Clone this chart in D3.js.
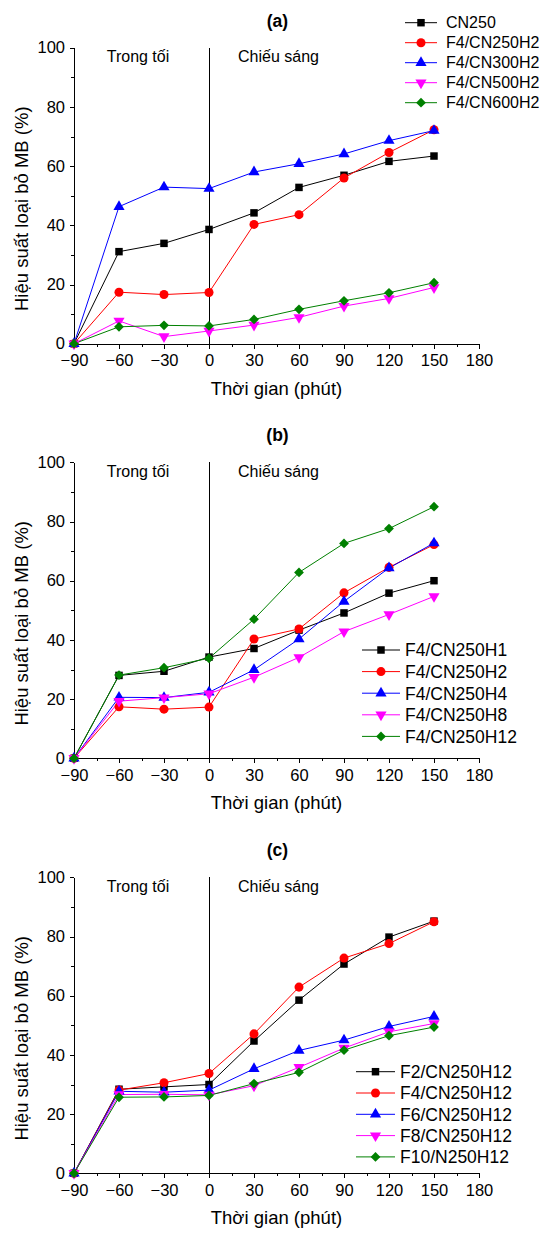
<!DOCTYPE html>
<html>
<head>
<meta charset="utf-8">
<script src="https://cdn.jsdelivr.net/npm/d3@7"></script>
<style>
  body { margin: 0; background: #fff; }
  svg { display: block; font-family: "Liberation Sans", Arial, sans-serif; }
</style>
</head>
<body>
<div id="chart"></div>
<script>
// thời gian (phút)
const times = [-90, -60, -30, 0, 30, 60, 90, 120, 150];
const xTicks = [-90, -60, -30, 0, 30, 60, 90, 120, 150, 180];
const yTicks = [0, 20, 40, 60, 80, 100];

// (a)
const namesA = ['CN250', 'F4/CN250H2', 'F4/CN300H2', 'F4/CN500H2', 'F4/CN600H2'];
const valuesA = [
  [0, 31.1, 33.9, 38.6, 44.2, 52.8, 56.9, 61.6, 63.4],
  [0, 17.4, 16.6, 17.3, 40.3, 43.6, 56.0, 64.6, 72.3],
  [0, 46.3, 52.9, 52.4, 58.0, 60.8, 64.1, 68.6, 72.0],
  [0, 7.7, 2.4, 4.3, 6.3, 8.9, 12.7, 15.3, 19.0],
  [0, 5.7, 6.2, 6.0, 8.2, 11.6, 14.5, 17.2, 20.6]
];

// (b)
const namesB = ['F4/CN250H1', 'F4/CN250H2', 'F4/CN250H4', 'F4/CN250H8', 'F4/CN250H12'];
const valuesB = [
  [0, 28.0, 29.4, 34.2, 37.1, 43.3, 49.1, 55.8, 60.0],
  [0, 17.4, 16.6, 17.3, 40.3, 43.7, 55.9, 64.5, 72.2],
  [0, 20.6, 20.5, 22.3, 29.9, 40.3, 53.0, 64.3, 72.7],
  [0, 19.3, 20.5, 21.8, 27.4, 34.1, 42.8, 48.6, 54.7],
  [0, 28.1, 30.6, 33.8, 47.0, 62.8, 72.6, 77.6, 85.0]
];

// (c)
const namesC = ['F2/CN250H12', 'F4/CN250H12', 'F6/CN250H12', 'F8/CN250H12', 'F10/N250H12'];
const valuesC = [
  [0, 28.4, 29.2, 30.0, 44.7, 58.5, 70.7, 79.8, 85.2],
  [0, 28.1, 30.6, 33.7, 47.1, 62.9, 72.7, 77.6, 85.0],
  [0, 27.7, 27.4, 28.1, 35.3, 41.5, 45.0, 49.6, 53.0],
  [0, 26.6, 26.7, 26.5, 29.6, 35.8, 42.3, 47.8, 50.6],
  [0, 25.7, 25.8, 26.3, 30.3, 34.1, 41.6, 46.5, 49.4]
];

const colors = ['#000000', '#ff0000', '#0000ff', '#ff00ff', '#008000'];

const width = 539, height = 1234;
const left = 74, right = 479, plotH = 296;

const panels = [
  { label: '(a)', top: 47.7, names: namesA, values: valuesA,
    legend: { x1: 405, x2: 437, tx: 446, y0: -25, dy: 20, fs: 16 } },
  { label: '(b)', top: 462.3, names: namesB, values: valuesB,
    legend: { x1: 362, x2: 400, tx: 405, y0: 187.7, dy: 21.6, fs: 17.5 } },
  { label: '(c)', top: 877.3, names: namesC, values: valuesC,
    legend: { x1: 356, x2: 395, tx: 400, y0: 194.4, dy: 21.3, fs: 17.5 } }
];

const svg = d3.select('#chart').append('svg')
  .attr('width', width)
  .attr('height', height);

const x = d3.scaleLinear().domain([-90, 180]).range([left, right]);

// ký hiệu điểm
function marker(sel, i, cx, cy) {
  const types = [d3.symbolSquare, d3.symbolCircle, d3.symbolTriangle, d3.symbolTriangle, d3.symbolSquare];
  const sizes = [56, 64, 54, 54, 48];
  const rot = [0, 0, 0, 180, 45];
  sel.append('path')
    .attr('d', d3.symbol().type(types[i]).size(sizes[i])())
    .attr('transform', `translate(${cx},${cy}) rotate(${rot[i]})`)
    .attr('fill', colors[i]);
}

panels.forEach(p => {
  const y = d3.scaleLinear().domain([0, 100]).range([p.top + plotH, p.top]);
  const g = svg.append('g');

  // tiêu đề
  g.append('text')
    .attr('x', (left + right) / 2 + 1)
    .attr('y', p.top - 21)
    .attr('text-anchor', 'middle')
    .attr('font-weight', 'bold')
    .attr('font-size', 17.5)
    .text(p.label);

  // trục x
  g.append('g')
    .attr('transform', `translate(0,${y(0)})`)
    .call(d3.axisBottom(x).tickValues(xTicks).tickSize(5).tickPadding(6).tickSizeOuter(0));
  g.append('g')
    .attr('transform', `translate(0,${y(0)})`)
    .call(d3.axisBottom(x).tickValues(d3.range(-75, 180, 30)).tickSize(3).tickFormat('').tickSizeOuter(0))
    .select('.domain').remove();

  // trục y
  g.append('g')
    .attr('transform', `translate(${left},0)`)
    .call(d3.axisLeft(y).tickValues(yTicks).tickSize(4).tickPadding(5).tickSizeOuter(0));
  g.append('g')
    .attr('transform', `translate(${left},0)`)
    .call(d3.axisLeft(y).tickValues([10, 30, 50, 70, 90]).tickSize(3).tickFormat('').tickSizeOuter(0))
    .select('.domain').remove();

  g.selectAll('.tick text')
    .attr('font-size', 16.5)
    .attr('font-family', '"Liberation Sans", Arial, sans-serif')
    .attr('fill', '#000');
  g.selectAll('.domain, .tick line')
    .attr('stroke', '#000')
    .attr('stroke-width', 1)
    .attr('shape-rendering', 'crispEdges');

  // đường phân chia tối / sáng
  g.append('line')
    .attr('x1', x(0)).attr('x2', x(0))
    .attr('y1', y(0)).attr('y2', y(100))
    .attr('stroke', '#000')
    .attr('shape-rendering', 'crispEdges');

  g.append('text')
    .attr('x', 138).attr('y', p.top + 14.5)
    .attr('text-anchor', 'middle')
    .attr('font-size', 16)
    .text('Trong tối');
  g.append('text')
    .attr('x', 238).attr('y', p.top + 14.5)
    .attr('font-size', 16)
    .text('Chiếu sáng');

  // nhãn trục
  g.append('text')
    .attr('x', (left + right) / 2)
    .attr('y', y(0) + 51)
    .attr('text-anchor', 'middle')
    .attr('font-size', 18.5)
    .text('Thời gian (phút)');
  g.append('text')
    .attr('transform', `translate(28,${p.top + plotH / 2 + 13}) rotate(-90)`)
    .attr('text-anchor', 'middle')
    .attr('font-size', 18.5)
    .text('Hiệu suất loại bỏ MB (%)');

  // các đường dữ liệu
  const line = d3.line().x((d, j) => x(times[j])).y(d => y(d));
  p.values.forEach((vals, i) => {
    g.append('path')
      .attr('d', line(vals))
      .attr('fill', 'none')
      .attr('stroke', colors[i])
      .attr('stroke-width', 1);
  });
  p.values.forEach((vals, i) => {
    vals.forEach((v, j) => marker(g, i, x(times[j]), y(v)));
  });

  // chú thích
  const L = p.legend;
  p.names.forEach((name, i) => {
    const ly = p.top + L.y0 + i * L.dy;
    g.append('line')
      .attr('x1', L.x1).attr('x2', L.x2)
      .attr('y1', ly).attr('y2', ly)
      .attr('stroke', colors[i]);
    marker(g, i, (L.x1 + L.x2) / 2, ly);
    g.append('text')
      .attr('x', L.tx).attr('y', ly)
      .attr('dy', '0.36em')
      .attr('font-size', L.fs)
      .text(name);
  });
});
</script>
</body>
</html>
